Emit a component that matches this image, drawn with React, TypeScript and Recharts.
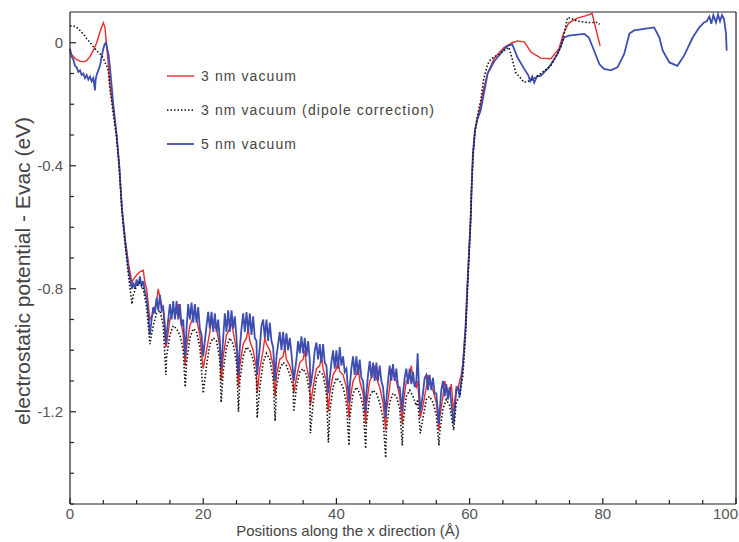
import React from 'react';
import { LineChart, Line, XAxis, YAxis, ReferenceLine, Label } from 'recharts';

// [position (Å), potential (eV)]
const vacuum3nm: [number, number][] = [
  [0, -0.03], [0.5, -0.045], [1, -0.055], [1.5, -0.06], [2, -0.062], [2.5, -0.058], [3, -0.045], [3.5, -0.025], [4, 0], [4.5, 0.035], [5, 0.065], [5.25, 0.05], [5.5, -0.01], [5.75, -0.07], [6, -0.14], [6.5, -0.22], [7, -0.3], [7.4, -0.4], [7.8, -0.54], [8.3, -0.64], [8.8, -0.72], [9.3, -0.78],
  [9.5, -0.77], [10, -0.755], [10.5, -0.745], [11, -0.74], [11.25, -0.78], [11.5, -0.8], [12, -0.9],
  [12.5, -0.88], [13, -0.84], [13.25, -0.8], [13.5, -0.83], [14, -0.87], [14.4, -0.99],
  [14.5, -0.98], [15, -0.9], [15.5, -0.87], [16, -0.88], [16.25, -0.85], [16.5, -0.89], [17, -0.95], [17.3, -1.05],
  [17.5, -0.99], [18, -0.92], [18.5, -0.89], [18.75, -0.87], [19, -0.9], [19.5, -0.95], [20, -1.06],
  [20.5, -1.0], [21, -0.94], [21.25, -0.9], [21.5, -0.92], [22, -0.93], [22.5, -0.99], [22.7, -1.1],
  [23, -1.02], [23.5, -0.95], [24, -0.93], [24.25, -0.91], [24.5, -0.94], [25, -1.0], [25.3, -1.12],
  [25.5, -1.05], [26, -0.98], [26.5, -0.96], [26.75, -0.93], [27, -0.97], [27.5, -1.0], [28, -1.06], [28.1, -1.14],
  [28.5, -1.06], [29, -1.0], [29.25, -0.96], [29.5, -0.98], [30, -1.0], [30.5, -1.05], [30.8, -1.15],
  [31, -1.08], [31.5, -1.03], [32, -1.02], [32.25, -0.99], [32.5, -1.03], [33, -1.05], [33.5, -1.09], [33.6, -1.14],
  [34, -1.09], [34.5, -1.04], [35, -1.03], [35.25, -1.0], [35.5, -1.05], [36, -1.1], [36.1, -1.18],
  [36.5, -1.12], [37, -1.06], [37.5, -1.05], [37.75, -1.02], [38, -1.06], [38.5, -1.1], [38.8, -1.2],
  [39, -1.14], [39.5, -1.08], [40, -1.06], [40.25, -1.03], [40.5, -1.07], [41, -1.08], [41.5, -1.12], [41.9, -1.22],
  [42, -1.17], [42.5, -1.1], [43, -1.08], [43.25, -1.05], [43.5, -1.1], [44, -1.14], [44.4, -1.24],
  [44.5, -1.18], [45, -1.1], [45.5, -1.08], [45.75, -1.05], [46, -1.09], [46.5, -1.12], [47, -1.17], [47.4, -1.26],
  [47.5, -1.2], [48, -1.12], [48.25, -1.06], [48.5, -1.08], [49, -1.1], [49.5, -1.15], [49.9, -1.24],
  [50, -1.18], [50.5, -1.1], [51, -1.09], [51.25, -1.05], [51.5, -1.1], [52, -1.12], [52.2, -1.1], [52.6, -1.22],
  [53, -1.18], [53.5, -1.12], [53.75, -1.08], [54, -1.11], [54.5, -1.13], [55, -1.17], [55.4, -1.26],
  [55.5, -1.22], [56, -1.15], [56.25, -1.1], [56.5, -1.12], [57, -1.14], [57.25, -1.11], [57.6, -1.2],
  [58, -1.12], [58.25, -1.13], [58.5, -1.1], [58.75, -1.08], [59, -1.04], [59.4, -0.93], [59.65, -0.8], [59.9, -0.68], [60.15, -0.57], [60.3, -0.47], [60.5, -0.37], [60.8, -0.29], [61.15, -0.25], [61.65, -0.2], [62.1, -0.15], [62.7, -0.1], [63.7, -0.05], [65.2, -0.015], [66.4, 0], [67.2, 0.006], [68.2, 0.003], [69.2, -0.03], [70.7, -0.05], [72.2, -0.052], [73.4, -0.02], [74.1, 0.03], [74.9, 0.065], [76.2, 0.08], [77.5, 0.088], [78.4, 0.095], [78.9, 0.05], [79.6, -0.01],
];

const vacuum3nmDipole: [number, number][] = [
  [0, 0.055], [0.5, 0.055], [1, 0.05], [1.5, 0.04], [2, 0.028], [2.5, 0.014], [3, 0.001], [3.5, -0.013], [4, -0.026], [4.5, -0.036], [5, -0.05], [5.25, -0.064], [5.5, -0.075], [5.75, -0.09], [6, -0.15], [6.5, -0.23], [7, -0.31], [7.4, -0.41], [7.8, -0.55], [8.3, -0.66], [8.8, -0.76], [9.3, -0.85],
  [9.5, -0.82], [10, -0.79], [10.5, -0.78], [11, -0.8], [11.5, -0.86], [12, -0.98],
  [12.5, -0.92], [13, -0.88], [13.5, -0.87], [14, -0.92], [14.4, -1.08],
  [14.5, -1.02], [15, -0.95], [15.5, -0.92], [16, -0.93], [16.5, -0.95], [17, -1.0], [17.3, -1.12],
  [17.5, -1.04], [18, -0.96], [18.5, -0.93], [19, -0.94], [19.5, -0.99], [20, -1.14],
  [20.5, -1.05], [21, -0.98], [21.5, -0.96], [22, -0.97], [22.5, -1.03], [22.7, -1.17],
  [23, -1.07], [23.5, -0.99], [24, -0.96], [24.5, -0.98], [25, -1.04], [25.3, -1.2],
  [25.5, -1.1], [26, -1.02], [26.5, -0.99], [27, -1.0], [27.5, -1.03], [28, -1.1], [28.1, -1.22],
  [28.5, -1.12], [29, -1.04], [29.5, -1.01], [30, -1.03], [30.5, -1.09], [30.8, -1.23],
  [31, -1.12], [31.5, -1.06], [32, -1.04], [32.5, -1.05], [33, -1.08], [33.5, -1.12], [33.6, -1.2],
  [34, -1.12], [34.5, -1.07], [35, -1.06], [35.5, -1.08], [36, -1.14], [36.1, -1.27],
  [36.5, -1.17], [37, -1.09], [37.5, -1.07], [38, -1.08], [38.5, -1.14], [38.8, -1.3],
  [39, -1.2], [39.5, -1.12], [40, -1.09], [40.5, -1.1], [41, -1.12], [41.5, -1.17], [41.9, -1.31],
  [42, -1.22], [42.5, -1.14], [43, -1.12], [43.5, -1.14], [44, -1.18], [44.4, -1.32],
  [44.5, -1.24], [45, -1.15], [45.5, -1.13], [46, -1.14], [46.5, -1.17], [47, -1.22], [47.4, -1.35],
  [47.5, -1.26], [48, -1.17], [48.5, -1.14], [49, -1.15], [49.5, -1.19], [49.9, -1.31],
  [50, -1.24], [50.5, -1.15], [51, -1.13], [51.5, -1.15], [52, -1.18], [52.2, -1.16], [52.6, -1.27],
  [53, -1.22], [53.5, -1.16], [54, -1.15], [54.5, -1.17], [55, -1.21], [55.4, -1.31],
  [55.5, -1.27], [56, -1.19], [56.5, -1.16], [57, -1.18], [57.6, -1.26],
  [58, -1.17], [58.5, -1.15], [59, -1.08], [59.4, -0.95], [59.65, -0.82], [59.9, -0.7], [60.15, -0.58], [60.3, -0.48], [60.5, -0.37], [60.8, -0.29], [61.15, -0.24], [61.65, -0.19], [62.1, -0.12], [62.7, -0.07], [63.2, -0.053], [64.4, -0.037], [65.9, -0.015], [66.4, -0.053], [66.9, -0.096], [68.2, -0.129], [69.2, -0.123], [70.7, -0.1], [72.2, -0.075], [73.7, -0.015], [74.2, 0.03], [74.7, 0.082], [75.2, 0.08], [76.2, 0.07], [77.7, 0.066], [79.2, 0.066], [79.5, 0.06],
];

const vacuum5nm: [number, number][] = [
  [0, -0.02], [0.25, -0.045], [0.5, -0.055], [0.75, -0.075], [1, -0.08], [1.25, -0.095], [1.5, -0.09], [1.75, -0.105], [2, -0.1], [2.25, -0.115], [2.5, -0.105], [2.75, -0.12], [3, -0.11], [3.25, -0.125], [3.5, -0.115], [3.75, -0.155], [3.85, -0.12], [4, -0.105], [4.25, -0.09], [4.5, -0.075], [4.75, -0.045], [5, -0.02], [5.2, -0.005], [5.4, 0], [5.6, -0.02], [5.8, -0.04], [6, -0.08], [6.5, -0.2], [7, -0.3], [7.4, -0.4], [7.8, -0.54], [8.3, -0.65], [8.8, -0.74], [9.3, -0.8],
  [9.5, -0.78], [9.75, -0.8], [10, -0.77], [10.25, -0.79], [10.5, -0.76], [10.75, -0.79], [11, -0.775], [11.25, -0.81], [11.5, -0.83], [11.75, -0.88], [12, -0.95],
  [12.25, -0.9], [12.5, -0.86], [12.75, -0.88], [13, -0.83], [13.25, -0.87], [13.5, -0.82], [13.75, -0.87], [14, -0.86], [14.25, -0.92], [14.4, -0.98],
  [14.5, -0.95], [14.75, -0.9], [15, -0.85], [15.25, -0.9], [15.5, -0.84], [15.75, -0.9], [16, -0.84], [16.25, -0.9], [16.5, -0.85], [16.75, -0.92], [17, -0.9], [17.3, -1.02],
  [17.5, -0.93], [17.75, -0.85], [18, -0.9], [18.25, -0.845], [18.5, -0.91], [18.75, -0.85], [19, -0.91], [19.25, -0.86], [19.5, -0.93], [19.75, -0.95], [20, -1.02],
  [20.25, -0.97], [20.5, -0.92], [20.75, -0.875], [21, -0.93], [21.25, -0.875], [21.5, -0.94], [21.75, -0.88], [22, -0.94], [22.25, -0.9], [22.5, -0.97], [22.7, -1.06],
  [23, -0.96], [23.25, -0.88], [23.5, -0.94], [23.75, -0.87], [24, -0.94], [24.25, -0.87], [24.5, -0.93], [24.75, -0.89], [25, -0.96], [25.3, -1.08],
  [25.5, -0.99], [25.75, -0.93], [26, -0.88], [26.25, -0.94], [26.5, -0.876], [26.75, -0.94], [27, -0.88], [27.25, -0.95], [27.5, -0.89], [27.75, -0.96], [28, -0.97], [28.1, -1.08],
  [28.5, -0.99], [28.75, -0.92], [29, -0.9], [29.25, -0.96], [29.5, -0.9], [29.75, -0.97], [30, -0.91], [30.25, -0.97], [30.5, -0.99], [30.8, -1.1],
  [31, -1.02], [31.25, -0.98], [31.5, -0.94], [31.75, -1.0], [32, -0.94], [32.25, -1.0], [32.5, -0.945], [32.75, -1.0], [33, -0.96], [33.25, -1.01], [33.6, -1.1],
  [34, -1.03], [34.25, -0.97], [34.5, -1.01], [34.75, -0.955], [35, -1.01], [35.25, -0.96], [35.5, -1.02], [35.75, -0.97], [36, -1.03], [36.1, -1.12],
  [36.5, -1.06], [36.75, -1.0], [37, -0.975], [37.25, -1.03], [37.5, -0.98], [37.75, -1.04], [38, -0.98], [38.25, -1.04], [38.5, -1.05], [38.8, -1.14],
  [39, -1.09], [39.25, -1.04], [39.5, -1.0], [39.75, -1.06], [40, -1.0], [40.25, -1.06], [40.5, -0.99], [40.75, -1.05], [41, -1.02], [41.25, -1.07], [41.5, -1.06], [41.9, -1.17],
  [42, -1.12], [42.25, -1.06], [42.5, -1.02], [42.75, -1.08], [43, -1.02], [43.25, -1.08], [43.5, -1.03], [43.75, -1.09], [44, -1.1], [44.4, -1.2],
  [44.5, -1.14], [44.75, -1.08], [45, -1.035], [45.25, -1.09], [45.5, -1.04], [45.75, -1.1], [46, -1.04], [46.25, -1.1], [46.5, -1.05], [46.75, -1.1], [47, -1.12], [47.4, -1.22],
  [47.5, -1.16], [47.75, -1.1], [48, -1.05], [48.25, -1.1], [48.5, -1.045], [48.75, -1.1], [49, -1.06], [49.25, -1.12], [49.5, -1.12], [49.9, -1.2],
  [50, -1.14], [50.25, -1.09], [50.5, -1.06], [50.75, -1.11], [51, -1.06], [51.25, -1.11], [51.5, -1.07], [51.75, -1.12], [52, -1.1], [52.2, -1.01], [52.4, -1.12], [52.6, -1.2],
  [53, -1.14], [53.25, -1.09], [53.5, -1.08], [53.75, -1.13], [54, -1.08], [54.25, -1.13], [54.5, -1.09], [54.75, -1.14], [55, -1.14], [55.4, -1.24],
  [55.5, -1.2], [55.75, -1.13], [56, -1.1], [56.25, -1.15], [56.5, -1.11], [56.75, -1.16], [57, -1.12], [57.3, -1.18], [57.6, -1.24],
  [58, -1.13], [58.25, -1.12], [58.5, -1.15], [58.75, -1.1], [59, -1.05], [59.4, -0.92], [59.65, -0.8], [59.9, -0.69], [60.15, -0.58], [60.3, -0.47], [60.5, -0.36], [60.8, -0.285], [61.15, -0.25], [61.65, -0.22], [62.1, -0.17], [62.7, -0.1], [63.7, -0.06], [64.5, -0.04], [65.2, -0.02], [65.7, -0.01], [66.4, -0.005], [67.2, -0.048], [68.2, -0.085], [68.8, -0.105], [69.1, -0.125], [69.4, -0.11], [69.7, -0.13], [70.1, -0.11], [70.7, -0.107], [71.9, -0.08], [73.2, -0.037], [74.2, 0.017], [74.9, 0.023], [77.2, 0.029], [77.9, 0.017], [78.7, -0.026], [79.5, -0.07], [80.2, -0.085], [81.2, -0.09], [82.2, -0.08], [83.2, -0.037], [84, 0.03], [84.7, 0.04], [86.2, 0.045], [87.7, 0.05], [88.5, 0.017], [89, -0.026], [90, -0.064], [91.2, -0.075], [92.2, -0.042], [93.5, 0.017], [94.5, 0.05], [95.2, 0.066], [95.6, 0.07], [96, 0.085], [96.3, 0.062], [96.6, 0.09], [97, 0.066], [97.3, 0.092], [97.6, 0.07], [97.9, 0.09], [98.2, 0.077], [98.5, 0.03], [98.6, -0.026],
];

const xTicks = [0, 5, 10, 15, 20, 25, 30, 35, 40, 45, 50, 55, 60, 65, 70, 75, 80, 85, 90, 95, 100];
const yTicks = [-1.5, -1.4, -1.3, -1.2, -1.1, -1, -0.9, -0.8, -0.7, -0.6, -0.5, -0.4, -0.3, -0.2, -0.1, 0];
const yLabeled = [-1.2, -0.8, -0.4, 0];

const RED = '#ec2b2b';
const BLUE = '#3d4eb0';
const FONT = 'Arial, "Liberation Sans", sans-serif';

const toRows = (pts: [number, number][]) => pts.map(([x, y]) => ({ x, y }));

const XTick = (props: any) => {
  const { x, y, payload } = props;
  const v = payload.value;
  const major = v % 20 === 0;
  return (
    <g>
      <line x1={x} x2={x} y1={y} y2={y - (major ? 6 : 4)} stroke="#222" strokeWidth={1.2} />
      {major && (
        <text x={v === 100 ? x + 2 : x} y={y + 15} textAnchor={v === 100 ? 'end' : 'middle'}
          fontSize={15} fill="#555" fontFamily={FONT}>{v}</text>
      )}
    </g>
  );
};

const YTick = (props: any) => {
  const { x, y, payload } = props;
  const v = payload.value;
  const major = yLabeled.some((m) => Math.abs(m - v) < 1e-6);
  return (
    <g>
      <line x1={x} x2={x + (major ? 6 : 4)} y1={y} y2={y} stroke="#222" strokeWidth={1.2} />
      {major && (
        <text x={x - 7} y={y + 5} textAnchor="end" fontSize={15} fill="#555" fontFamily={FONT}>
          {v === 0 ? '0' : v.toFixed(1)}
        </text>
      )}
    </g>
  );
};

const legendItems = [
  { name: '3 nm vacuum', color: RED, dash: undefined, width: 1.4 },
  { name: '3 nm vacuum (dipole correction)', color: '#111', dash: '1.5 2', width: 1.6 },
  { name: '5 nm vacuum', color: BLUE, dash: undefined, width: 1.8 },
];

const LegendBox = () => (
  <div style={{ position: 'absolute', left: 166, top: 59, fontFamily: FONT, fontSize: 14, color: '#444', letterSpacing: 1.1 }}>
    {legendItems.map((it, i) => (
      <div key={i} style={{ display: 'flex', alignItems: 'center', height: 34 }}>
        <svg width={30} height={6} style={{ marginRight: 5 }}>
          <line x1={1} x2={28} y1={3} y2={3} stroke={it.color} strokeWidth={it.width} strokeDasharray={it.dash} />
        </svg>
        <span>{it.name}</span>
      </div>
    ))}
  </div>
);

export default function App() {
  return (
    <div style={{ position: 'absolute', left: 0, top: 0, width: 739, height: 542, background: '#fff' }}>
      <LineChart width={739} height={542} margin={{ top: 12, right: 3, bottom: 0, left: 0 }}>
        <XAxis dataKey="x" type="number" domain={[0, 100]} ticks={xTicks} interval={0}
          tick={<XTick />} tickLine={false} tickSize={0} tickMargin={0} height={38}
          axisLine={{ stroke: '#222', strokeWidth: 1.2 }}>
          <Label content={() => (
            <text x={348} y={536} textAnchor="middle" fontSize={15} fill="#444" fontFamily={FONT}>
              Positions along the x direction (Å)
            </text>
          )} />
        </XAxis>
        <YAxis type="number" domain={[-1.5, 0.1]} ticks={yTicks} interval={0} allowDataOverflow
          tick={<YTick />} tickLine={false} tickSize={0} tickMargin={0} width={70}
          axisLine={{ stroke: '#222', strokeWidth: 1.2 }}>
          <Label content={() => (
            <text x={30} y={271} transform="rotate(-90 30 271)" textAnchor="middle" fontSize={21}
              fill="#444" fontFamily={FONT}>
              electrostatic potential - Evac (eV)
            </text>
          )} />
        </YAxis>
        <ReferenceLine y={0.1} stroke="#222" strokeWidth={1.2} />
        <ReferenceLine x={100} stroke="#222" strokeWidth={1.2} />
        <Line data={toRows(vacuum3nm)} dataKey="y" name="3 nm vacuum" type="linear" stroke={RED}
          strokeWidth={1.4} dot={false} isAnimationActive={false} />
        <Line data={toRows(vacuum5nm)} dataKey="y" name="5 nm vacuum" type="linear" stroke={BLUE}
          strokeWidth={1.8} dot={false} isAnimationActive={false} />
        <Line data={toRows(vacuum3nmDipole)} dataKey="y" name="3 nm vacuum (dipole correction)" type="linear"
          stroke="#111" strokeWidth={1.6} strokeDasharray="1.5 2" dot={false} isAnimationActive={false} />
      </LineChart>
      <LegendBox />
    </div>
  );
}
